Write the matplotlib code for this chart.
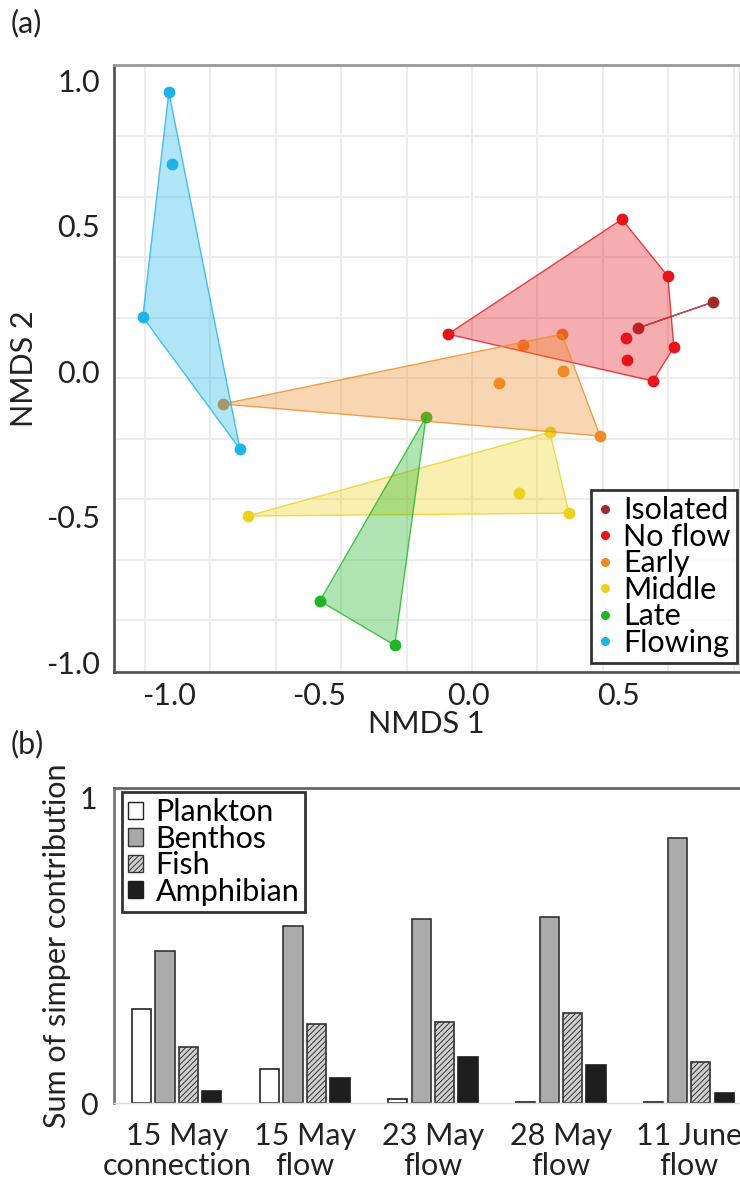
import numpy as np
import matplotlib
matplotlib.use("Agg")
import matplotlib.pyplot as plt
from matplotlib.lines import Line2D
from matplotlib.patches import Patch

plt.rcParams['font.family'] = ['Lato', 'DejaVu Sans']
plt.rcParams['hatch.linewidth'] = 0.7

FS = 22

# (a) NMDS scores for each group
groups = ['Isolated', 'No flow', 'Early', 'Middle', 'Late', 'Flowing']
isolated_x = [0.563, 0.813]
isolated_y = [0.148, 0.237]
noflow_x = [-0.070, 0.510, 0.663, 0.523, 0.683, 0.527, 0.613]
noflow_y = [0.127, 0.522, 0.326, 0.113, 0.082, 0.038, -0.034]
early_x = [-0.820, 0.180, 0.310, 0.100, 0.313, 0.437]
early_y = [-0.113, 0.089, 0.127, -0.041, 0.000, -0.223]
middle_x = [-0.737, 0.270, 0.167, 0.333]
middle_y = [-0.498, -0.210, -0.419, -0.488]
late_x = [-0.497, -0.143, -0.247]
late_y = [-0.790, -0.158, -0.942]
flowing_x = [-1.000, -0.990, -1.087, -0.763]
flowing_y = [0.959, 0.711, 0.186, -0.268]

# (b) sum of simper contribution per taxon group
dates = ['15 May\nconnection', '15 May\nflow', '23 May\nflow', '28 May\nflow', '11 June\nflow']
taxa = ['Plankton', 'Benthos', 'Fish', 'Amphibian']
plankton = [0.307, 0.111, 0.013, 0.003, 0.003]
benthos = [0.497, 0.578, 0.601, 0.608, 0.866]
fish = [0.183, 0.258, 0.265, 0.294, 0.134]
amphibian = [0.039, 0.082, 0.150, 0.124, 0.033]


def hull(xs, ys):
    # monotone chain convex hull
    pts = sorted(set(zip(xs, ys)))
    if len(pts) < 3:
        return pts

    def cross(o, a, b):
        return (a[0] - o[0]) * (b[1] - o[1]) - (a[1] - o[1]) * (b[0] - o[0])

    lower, upper = [], []
    for p in pts:
        while len(lower) >= 2 and cross(lower[-2], lower[-1], p) <= 0:
            lower.pop()
        lower.append(p)
    for p in reversed(pts):
        while len(upper) >= 2 and cross(upper[-2], upper[-1], p) <= 0:
            upper.pop()
        upper.append(p)
    return lower[:-1] + upper[:-1]


fig = plt.figure(figsize=(7.4, 11.97), dpi=100)

# ---------- panel (a)
ax = fig.add_axes([0.154, 0.4386, 0.8446, 0.5071])
data = [(isolated_x, isolated_y), (noflow_x, noflow_y), (early_x, early_y),
        (middle_x, middle_y), (late_x, late_y), (flowing_x, flowing_y)]
colors = ['#a3282e', '#e8141c', '#f08a24', '#ecd21e', '#1fb526', '#1eb4ea']

# points first, hull fills drawn over them
for (xs, ys), c in zip(data, colors):
    ax.plot(xs, ys, 'o', color=c, markersize=7.5, zorder=2)
for (xs, ys), c in zip(data, colors):
    h = hull(xs, ys)
    hx = [p[0] for p in h] + [h[0][0]]
    hy = [p[1] for p in h] + [h[0][1]]
    if len(h) > 2:
        ax.fill(hx, hy, color=c, alpha=0.35, lw=0, zorder=3)
    ax.plot(hx, hy, color=c, lw=1.0, alpha=0.8, zorder=3)

ax.set_xlim(-1.183, 0.90)
ax.set_ylim(-1.034, 1.052)
ax.set_xticks(np.arange(-1.08, 0.9, 0.218))
ax.set_yticks(np.arange(-0.856, 1.0, 0.208))
ax.tick_params(which='major', length=0, labelbottom=False, labelleft=False)
ax.set_xticks([-1.0, -0.5, 0.0, 0.5], minor=True)
ax.set_xticklabels(['-1.0', '-0.5', '0.0', '0.5'], minor=True)
ax.set_yticks([-1.0, -0.5, 0.0, 0.5, 1.0], minor=True)
ax.set_yticklabels(['-1.0', '-0.5', '0.0', '0.5', '1.0'], minor=True)
ax.tick_params(which='minor', length=0, labelsize=FS, colors='#222222')
ax.tick_params(axis='y', which='minor', pad=10)
ax.tick_params(axis='x', which='minor', pad=7)
ax.grid(True, which='major', color='#ececec', lw=1.5)
ax.set_axisbelow(True)
for s in ['left', 'bottom']:
    ax.spines[s].set_color('#555555')
    ax.spines[s].set_linewidth(2)
ax.spines['top'].set_color('#999999')
ax.spines['top'].set_linewidth(2)
ax.spines['right'].set_color('#dddddd')
ax.set_xlabel('NMDS 1', fontsize=FS, color='#222222', labelpad=0)
ax.set_ylabel('NMDS 2', fontsize=FS, color='#222222', labelpad=6)

handles = [Line2D([], [], marker='o', ls='', color=c, markersize=5.5) for c in colors]
leg = ax.legend(handles, groups, loc='lower right', bbox_to_anchor=(0.997, 0.015),
                borderaxespad=0, fontsize=FS, frameon=True, fancybox=False,
                handlelength=0.5, handletextpad=0.35, labelspacing=-0.05,
                borderpad=0.2)
leg.get_frame().set_edgecolor('black')
leg.get_frame().set_linewidth(2)
leg.set_zorder(5)

fig.text(0.014, 0.981, '(a)', fontsize=FS, color='#222222', va='center')

# ---------- panel (b)
bx = fig.add_axes([0.154, 0.0785, 0.8446, 0.2632])
x = np.arange(len(dates))
w = 0.15
step = 0.183
bx.bar(x - 1.5 * step, plankton, w, facecolor='white', edgecolor='#222222', lw=1.2)
bx.bar(x - 0.5 * step, benthos, w, facecolor='#aaaaaa', edgecolor='#333333', lw=1.2)
bx.bar(x + 0.5 * step, fish, w, facecolor='#d0d0d0', edgecolor='#333333', lw=1.2, hatch='//////')
bx.bar(x + 1.5 * step, amphibian, w, facecolor='#1e1e1e', edgecolor='#1e1e1e', lw=1.2)

bx.set_xlim(-0.49, 4.39)
bx.set_ylim(0, 1.03)
bx.set_yticks([0, 1])
bx.set_yticklabels(['0', '1'])
bx.set_xticks(x)
bx.set_xticklabels(dates, linespacing=1.05)
bx.tick_params(length=0, labelsize=FS, colors='#222222')
bx.tick_params(axis='x', pad=14)
bx.tick_params(axis='y', pad=12)
bx.spines['left'].set_color('#777777')
bx.spines['left'].set_linewidth(2)
bx.spines['top'].set_color('#666666')
bx.spines['top'].set_linewidth(2)
bx.spines['bottom'].set_color('#dddddd')
bx.spines['bottom'].set_linewidth(1)
bx.spines['right'].set_visible(False)
bx.set_ylabel('Sum of simper contribution', fontsize=FS, color='#222222', labelpad=6)

bhandles = [Patch(facecolor='white', edgecolor='#222222'),
            Patch(facecolor='#aaaaaa', edgecolor='#333333'),
            Patch(facecolor='#d0d0d0', edgecolor='#333333', hatch='//////'),
            Patch(facecolor='#1e1e1e', edgecolor='#1e1e1e')]
bleg = bx.legend(bhandles, taxa, loc='upper left', bbox_to_anchor=(0.0128, 0.987),
                 borderaxespad=0, fontsize=FS, frameon=True, fancybox=False,
                 handlelength=0.5, handleheight=0.5, handletextpad=0.4,
                 labelspacing=-0.05, borderpad=0.2)
bleg.get_frame().set_edgecolor('black')
bleg.get_frame().set_linewidth(2)

fig.text(0.014, 0.378, '(b)', fontsize=FS, color='#222222', va='center')

fig.savefig('out.png', dpi=100)
